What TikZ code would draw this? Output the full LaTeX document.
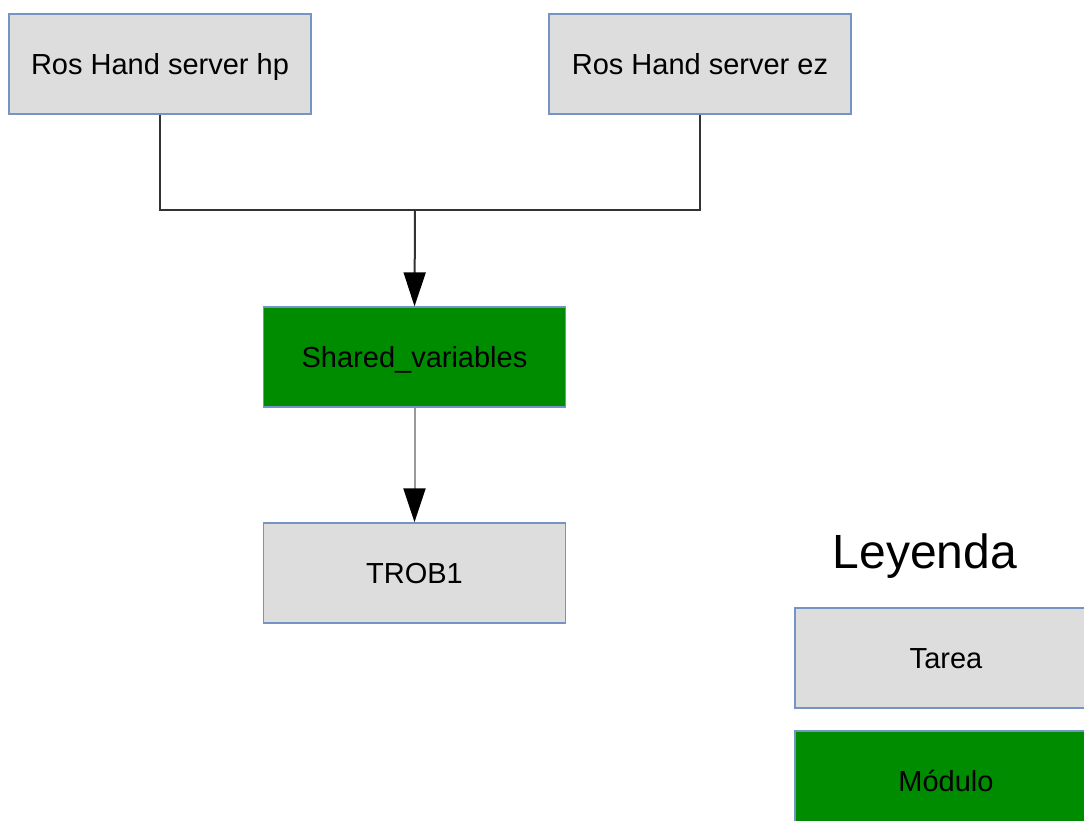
\documentclass[tikz,border=0pt]{standalone}
\usepackage{fontspec}
\setmainfont{Liberation Sans}
\usetikzlibrary{arrows.meta}
\definecolor{taskfill}{HTML}{DDDDDD}
\definecolor{boxedge}{HTML}{7394C4}
\definecolor{modfill}{HTML}{008C00}
\definecolor{wire}{HTML}{333333}
\definecolor{softwire}{HTML}{9A9A9A}
\begin{document}
\begin{tikzpicture}[x=1pt,y=-1pt,
  box/.style={draw=boxedge,line width=1.4pt,minimum width=302pt,minimum height=100pt,
    inner sep=0pt,text height=25pt,text depth=4pt,
    font=\fontsize{29}{33}\selectfont,text=black},
  task/.style={box,fill=taskfill},
  module/.style={box,fill=modfill},
  link/.style={draw=wire,line width=2pt},
  flow/.style={line width=2pt,-{Triangle[width=22pt,length=34pt,color=black]}}]
  \useasboundingbox (0,0) rectangle (1084,820);

  % sources
  \node[task] (hp) at (160,64) {Ros Hand server hp};
  \node[task] (ez) at (700,64) {Ros Hand server ez};

  % shared module and consumer task
  \node[module] (sv) at (414.5,357) {Shared\_variables};
  \node[task] (trob) at (414.5,573) {TROB1};

  % merge of both servers into the module
  \coordinate (j) at (415,210);
  \draw[link] (hp.south) |- (j) -| (ez.south);
  \draw[flow,draw=wire] (j) -- (sv.north);
  \draw[flow,draw=softwire] (sv.south) -- (trob.north);

  % legend
  \node[font=\fontsize{48}{54}\selectfont,text=black] (ley) at (925,556) {Leyenda};
  \node[task] (ltask) at (946,658) {Tarea};
  \node[module] (lmod) at (946,781) {Módulo};
\end{tikzpicture}
\end{document}
